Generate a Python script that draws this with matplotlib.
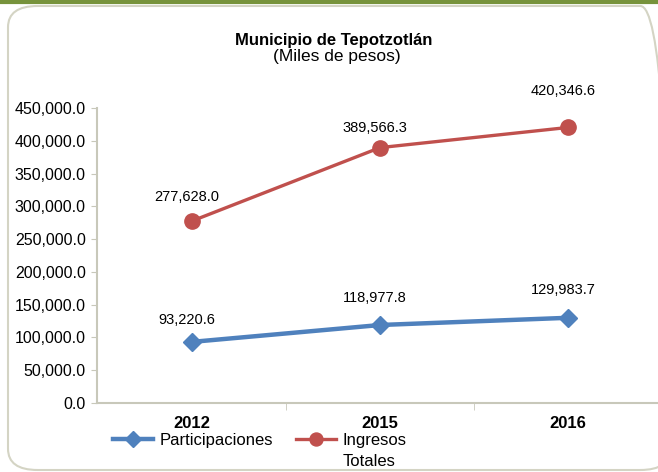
import matplotlib.pyplot as plt
from matplotlib.patches import FancyBboxPatch
from matplotlib.lines import Line2D

plt.rcParams['font.family'] = ['Liberation Sans', 'DejaVu Sans']

# datos
years = ['2012', '2015', '2016']
participaciones = [93220.6, 118977.8, 129983.7]
ingresos_totales = [277628.0, 389566.3, 420346.6]
y_ticks = [0, 50000, 100000, 150000, 200000, 250000, 300000, 350000, 400000, 450000]

# desplazamiento de las etiquetas (pixeles)
off_ingresos = [24, 20, 36]
off_particip = [22, 27, 28]

blue = '#4F81BD'
red = '#C0504D'
axis_color = '#C8C8BA'

fig = plt.figure(figsize=(6.58, 4.72), dpi=100)

# marco redondeado y franja verde superior
fig.patches.append(FancyBboxPatch((8 / 658, 2 / 472), 662 / 658, 464 / 472,
                                  boxstyle='round,pad=0,rounding_size=0.045',
                                  transform=fig.transFigure, fill=False,
                                  edgecolor='#D4D4C4', linewidth=1.5))
fig.add_artist(Line2D([0, 1], [1 - 1.5 / 472, 1 - 1.5 / 472], transform=fig.transFigure,
                      color='#77933C', linewidth=3))

ax = fig.add_axes([97 / 658, 69 / 472, 561 / 658, 295 / 472])
x = list(range(len(years)))

ax.plot(x, ingresos_totales, color=red, linewidth=2.4, marker='o', markersize=11,
        label='Ingresos', zorder=3)
ax.plot(x, participaciones, color=blue, linewidth=3.2, marker='D', markersize=9,
        label='Participaciones', zorder=3)

for xi, v, d in zip(x, ingresos_totales, off_ingresos):
    ax.annotate(f'{v:,.1f}', (xi, v), textcoords='offset pixels', xytext=(-5, d),
                ha='center', va='center', fontsize=10.5)
for xi, v, d in zip(x, participaciones, off_particip):
    ax.annotate(f'{v:,.1f}', (xi, v), textcoords='offset pixels', xytext=(-5, d),
                ha='center', va='center', fontsize=10.5)

ax.set_xlim(-0.505, 2.478)
ax.set_ylim(0, 450000)
ax.set_yticks(y_ticks)
ax.set_yticklabels([f'{t:,.1f}' for t in y_ticks], fontsize=11.5)
ax.set_xticks(x)
ax.set_xticklabels(years, fontsize=12, fontweight='bold')
ax.set_xticks([0.5, 1.5], minor=True)
ax.tick_params(axis='x', which='major', length=0, pad=9)
ax.tick_params(axis='x', which='minor', length=5, color=axis_color, direction='out')
ax.tick_params(axis='y', length=4, color=axis_color, pad=4)

for s in ['top', 'right']:
    ax.spines[s].set_visible(False)
for s in ['left', 'bottom']:
    ax.spines[s].set_color(axis_color)
    ax.spines[s].set_linewidth(1.5)

fig.text(334 / 658, 1 - 40 / 472, 'Municipio de Tepotzotlán', ha='center', va='center',
         fontsize=12, fontweight='bold')
fig.text(337 / 658, 1 - 57 / 472, '(Miles de pesos)', ha='center', va='center', fontsize=12.5)

handles, labels = ax.get_legend_handles_labels()
ax.legend(handles[::-1], labels[::-1], loc='center left',
          bbox_to_anchor=(113 / 658, 1 - 440 / 472),
          bbox_transform=fig.transFigure, ncol=2, frameon=False, fontsize=12,
          handlelength=2.4, handletextpad=0.4, columnspacing=1.35, borderpad=0,
          borderaxespad=0, markerscale=0.85)
fig.text(343 / 658, 1 - 461 / 472, 'Totales', ha='left', va='center', fontsize=12)

plt.savefig('out.png', dpi=100)
